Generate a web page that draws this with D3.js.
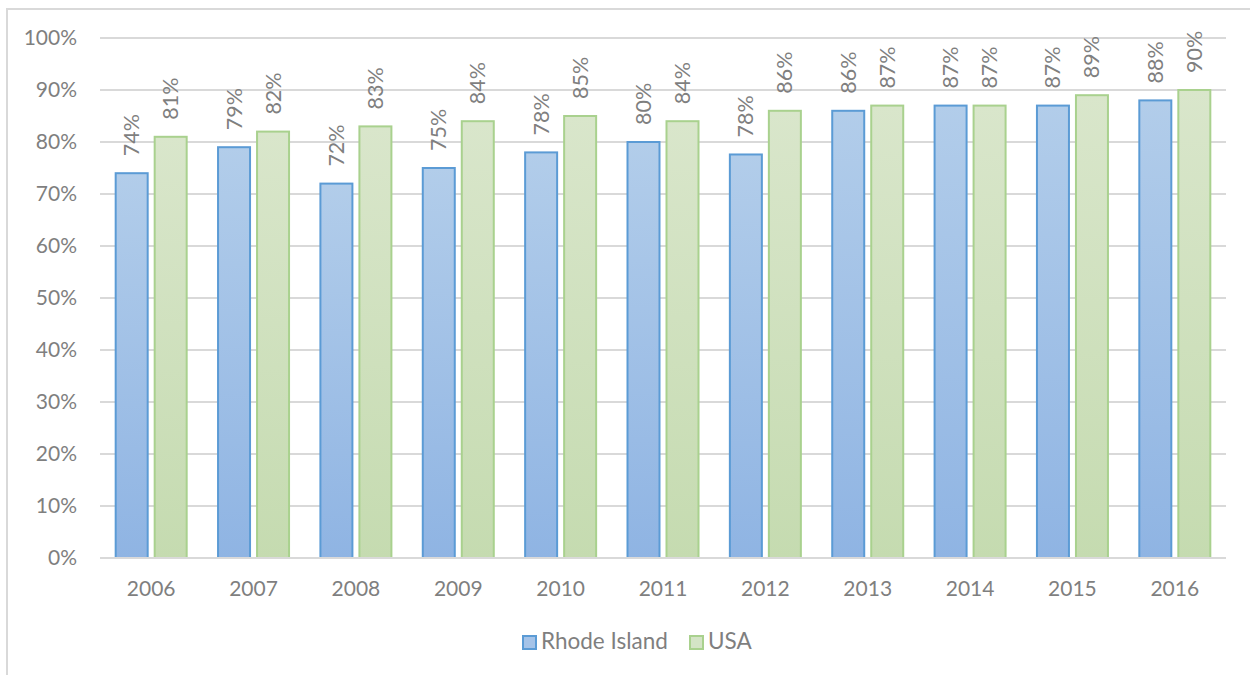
<!DOCTYPE html>
<html>
<head>
<meta charset="utf-8">
<script src="https://cdn.jsdelivr.net/npm/d3@7"></script>
<style>
  html, body { margin: 0; padding: 0; background: #fff; }
  svg { display: block; }
  text { font-family: Lato, "Open Sans", sans-serif; fill: #7f7f7f; }
</style>
</head>
<body>
<svg id="chart" width="1250" height="675"></svg>
<script>
// Share of values per year, Rhode Island vs. USA
const years = ["2006","2007","2008","2009","2010","2011","2012","2013","2014","2015","2016"];
const rhodeIsland = [0.74, 0.79, 0.72, 0.75, 0.78, 0.80, 0.776, 0.86, 0.87, 0.87, 0.88];
const usa = [0.81, 0.82, 0.83, 0.84, 0.85, 0.84, 0.86, 0.87, 0.87, 0.89, 0.90];
const yTicks = [0, 0.1, 0.2, 0.3, 0.4, 0.5, 0.6, 0.7, 0.8, 0.9, 1.0];
const seriesNames = ["Rhode Island", "USA"];

const svg = d3.select("#chart");

// outer frame
svg.append("rect")
  .attr("x", 7).attr("y", 9)
  .attr("width", 1260).attr("height", 680)
  .attr("fill", "none").attr("stroke", "#d9d9d9").attr("stroke-width", 2);

const x = d3.scaleBand().domain(years).range([100, 1226]).padding(0);
const y = d3.scaleLinear().domain([0, 1]).range([558, 38]);

// gradients for bar fills
const defs = svg.append("defs");
const grads = [
  { id: "gBlue", top: "#b2cdea", bottom: "#8fb4e3" },
  { id: "gGreen", top: "#d9e6cb", bottom: "#c5dbb0" }
];
grads.forEach(g => {
  const lg = defs.append("linearGradient").attr("id", g.id)
    .attr("x1", 0).attr("y1", 0).attr("x2", 0).attr("y2", 1);
  lg.append("stop").attr("offset", "0%").attr("stop-color", g.top);
  lg.append("stop").attr("offset", "100%").attr("stop-color", g.bottom);
});

// gridlines
svg.append("g")
  .selectAll("line")
  .data(yTicks)
  .join("line")
  .attr("x1", 100).attr("x2", 1226)
  .attr("y1", d => y(d)).attr("y2", d => y(d))
  .attr("stroke", "#d9d9d9").attr("stroke-width", 2);

// y axis labels
const yFmt = d3.format(".0%");
svg.append("g")
  .selectAll("text")
  .data(yTicks)
  .join("text")
  .attr("x", 77).attr("y", d => y(d))
  .attr("dy", "0.35em")
  .attr("text-anchor", "end")
  .style("font-size", "21px")
  .text(d => yFmt(d));

// x axis labels
svg.append("g")
  .selectAll("text")
  .data(years)
  .join("text")
  .attr("x", d => x(d) + x.bandwidth() / 2)
  .attr("y", 596)
  .attr("text-anchor", "middle")
  .style("font-size", "21px")
  .text(d => d);

// bars
const barW = 32;
const offset = 19.5;
const series = [
  { name: seriesNames[0], values: rhodeIsland, fill: "url(#gBlue)", stroke: "#5b9bd5", dx: -offset },
  { name: seriesNames[1], values: usa, fill: "url(#gGreen)", stroke: "#a9d18e", dx: offset }
];

series.forEach(s => {
  const g = svg.append("g");
  const rows = years.map((yr, i) => ({ yr, v: s.values[i] }));
  g.selectAll("rect")
    .data(rows)
    .join("rect")
    .attr("x", d => x(d.yr) + x.bandwidth() / 2 + s.dx - barW / 2)
    .attr("y", d => y(d.v))
    .attr("width", barW)
    .attr("height", d => y(0) - y(d.v))
    .attr("fill", s.fill)
    .attr("stroke", s.stroke)
    .attr("stroke-width", 2);

  // rotated value labels above bars
  g.selectAll("text")
    .data(rows)
    .join("text")
    .attr("transform", d => {
      const cx = x(d.yr) + x.bandwidth() / 2 + s.dx;
      return `translate(${cx},${y(d.v) - 17}) rotate(-90)`;
    })
    .attr("dy", "0.35em")
    .attr("text-anchor", "start")
    .style("font-size", "21.5px")
    .text(d => yFmt(d.v));
});

// redraw the baseline over the bars
svg.append("line")
  .attr("x1", 100).attr("x2", 1226)
  .attr("y1", y(0)).attr("y2", y(0))
  .attr("stroke", "#d9d9d9").attr("stroke-width", 2);

// legend
const legend = svg.append("g");
const legendItems = [
  { name: seriesNames[0], fill: "#a5c3e8", stroke: "#5b9bd5", x: 522 },
  { name: seriesNames[1], fill: "#d4e4c6", stroke: "#a9d18e", x: 689 }
];
legendItems.forEach(it => {
  legend.append("rect")
    .attr("x", it.x + 1).attr("y", 636)
    .attr("width", 13).attr("height", 13)
    .attr("fill", it.fill).attr("stroke", it.stroke).attr("stroke-width", 2);
  legend.append("text")
    .attr("x", it.x + 19).attr("y", 649)
    .style("font-size", "22.5px")
    .text(it.name);
});
</script>
</body>
</html>
